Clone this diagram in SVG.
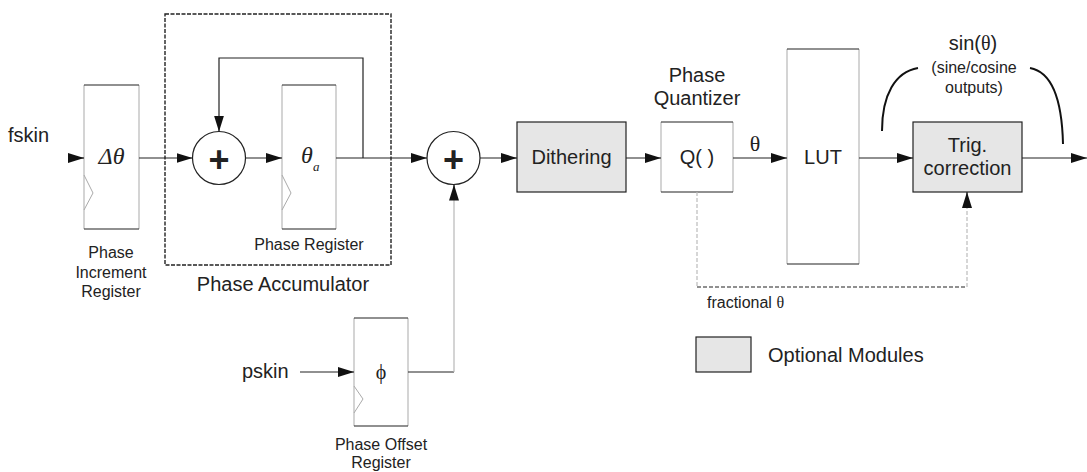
<svg xmlns="http://www.w3.org/2000/svg" width="1087" height="472" viewBox="0 0 1087 472">
<defs>
<marker id="ah" markerWidth="16" markerHeight="10" refX="16" refY="5" orient="auto" markerUnits="userSpaceOnUse">
<path d="M0,0 L16,5 L0,10 Z" fill="#111"/>
</marker>
<style>
text{font-family:"Liberation Sans",Arial,sans-serif;fill:#222;}
.t20{font-size:20px;}
.t16{font-size:16px;}
.side{stroke:#b8b8b8;stroke-width:1.2;fill:none;}
.edge{stroke:#222;stroke-width:1.2;fill:none;}
.clk{stroke:#aaa;stroke-width:1;fill:none;}
.opt{fill:#e6e6e6;stroke:#222;stroke-width:1.2;}
.wire{stroke:#222;stroke-width:1.2;fill:none;}
.gwire{stroke:#b8b8b8;stroke-width:1.2;fill:none;}
.sum{fill:#fff;stroke:#222;stroke-width:1.2;}
.plus{font-size:36px;font-weight:bold;}
.serif{font-family:"Liberation Serif","Times New Roman",serif;}
</style>
</defs>
<rect width="1087" height="472" fill="#fff"/>

<g id="accumulator-frame">
<rect x="165" y="14" width="226" height="251" fill="none" stroke="#222" stroke-width="1.4" stroke-dasharray="4,1.5"/>
<text x="283" y="291" class="t20" text-anchor="middle">Phase Accumulator</text>
</g>

<g id="fskin-label"><text x="8" y="142" class="t20">fskin</text></g>
<g id="pskin-label"><text x="242" y="378" class="t20">pskin</text></g>

<g id="phase-increment-register">
<rect x="84" y="85" width="55" height="144" fill="#fff" stroke="none"/>
<line class="side" x1="84" y1="85" x2="84" y2="229"/>
<line class="side" x1="139" y1="85" x2="139" y2="229"/>
<line class="edge" x1="84" y1="85" x2="139" y2="85"/>
<line class="edge" x1="84" y1="229" x2="139" y2="229"/>
<polyline class="clk" points="84,175 93,193 84,210"/>
<text x="111.5" y="164" class="serif" font-size="24" font-style="italic" text-anchor="middle">Δθ</text>
<text x="111" y="258" class="t16" text-anchor="middle">Phase</text>
<text x="111" y="278" class="t16" text-anchor="middle">Increment</text>
<text x="111" y="297" class="t16" text-anchor="middle">Register</text>
</g>

<g id="adder1">
<circle class="sum" cx="219" cy="158" r="26.5"/>
<text x="219" y="172" class="plus" text-anchor="middle">+</text>
</g>

<g id="phase-register">
<rect x="282" y="85" width="54" height="144" fill="#fff" stroke="none"/>
<line class="side" x1="282" y1="85" x2="282" y2="229"/>
<line class="side" x1="336" y1="85" x2="336" y2="229"/>
<line class="edge" x1="282" y1="85" x2="336" y2="85"/>
<line class="edge" x1="282" y1="229" x2="336" y2="229"/>
<polyline class="clk" points="282,175 291,193 282,210"/>
<text x="307" y="163" class="serif" font-size="24" font-style="italic" text-anchor="middle">θ</text>
<text x="313" y="171" class="serif" font-size="13" font-style="italic">a</text>
<text x="309" y="250" class="t16" text-anchor="middle">Phase Register</text>
</g>

<g id="adder2">
<circle class="sum" cx="453.5" cy="158" r="26.5"/>
<text x="453.5" y="172" class="plus" text-anchor="middle">+</text>
</g>

<g id="phase-offset-register">
<rect x="354" y="318" width="54" height="108" fill="#fff" stroke="none"/>
<line class="side" x1="354" y1="318" x2="354" y2="426"/>
<line class="side" x1="408" y1="318" x2="408" y2="426"/>
<line class="edge" x1="354" y1="318" x2="408" y2="318"/>
<line class="edge" x1="354" y1="426" x2="408" y2="426"/>
<polyline class="clk" points="354,386 363,399 354,413"/>
<text x="381" y="379" class="serif" font-size="20" text-anchor="middle">ϕ</text>
<text x="381" y="450" class="t16" text-anchor="middle">Phase Offset</text>
<text x="381" y="468" class="t16" text-anchor="middle">Register</text>
</g>

<g id="dithering">
<rect class="opt" x="517" y="122" width="109" height="70"/>
<text x="571.5" y="164" class="t20" text-anchor="middle">Dithering</text>
</g>

<g id="quantizer">
<rect x="661" y="122" width="72" height="70" fill="#fff" stroke="none"/>
<line class="side" x1="661" y1="122" x2="661" y2="192"/>
<line class="side" x1="733" y1="122" x2="733" y2="192"/>
<line class="edge" x1="661" y1="122" x2="733" y2="122"/>
<line class="edge" x1="661" y1="192" x2="733" y2="192"/>
<text x="697" y="164" class="t20" text-anchor="middle">Q( )</text>
<text x="697" y="82" class="t20" text-anchor="middle">Phase</text>
<text x="697" y="105" class="t20" text-anchor="middle">Quantizer</text>
</g>

<g id="lut">
<rect x="787" y="49" width="72" height="215" fill="#fff" stroke="none"/>
<line class="side" x1="787" y1="49" x2="787" y2="264"/>
<line class="side" x1="859" y1="49" x2="859" y2="264"/>
<line class="edge" x1="787" y1="49" x2="859" y2="49"/>
<line class="edge" x1="787" y1="264" x2="859" y2="264"/>
<text x="823" y="164" class="t20" text-anchor="middle">LUT</text>
</g>

<g id="trig-correction">
<rect class="opt" x="913" y="122" width="109" height="70"/>
<text x="967.5" y="152" class="t20" text-anchor="middle">Trig.</text>
<text x="967.5" y="175" class="t20" text-anchor="middle">correction</text>
</g>

<g id="sin-label">
<text x="973" y="50" class="t20" text-anchor="middle">sin(<tspan class="serif">θ</tspan>)</text>
<text x="974" y="73" class="t16" text-anchor="middle">(sine/cosine</text>
<text x="974" y="93" class="t16" text-anchor="middle">outputs)</text>
<path d="M882,131 C882,95 895,72 918,68" fill="none" stroke="#111" stroke-width="2"/>
<path d="M1030,68 C1052,72 1062,100 1063,144" fill="none" stroke="#111" stroke-width="2"/>
</g>

<g id="legend">
<rect class="opt" x="696" y="337" width="55" height="35"/>
<text x="768" y="362" class="t20">Optional Modules</text>
</g>

<g id="connectors">
<line class="wire" x1="68" y1="158" x2="84" y2="158" marker-end="url(#ah)"/>
<line class="wire" x1="139" y1="158" x2="192.5" y2="158" marker-end="url(#ah)"/>
<line class="wire" x1="245.5" y1="158" x2="282" y2="158" marker-end="url(#ah)"/>
<line class="wire" x1="336" y1="158" x2="427" y2="158" marker-end="url(#ah)"/>
<polyline class="wire" points="363,158 363,58 219,58 219,131.5" marker-end="url(#ah)"/>
<line class="wire" x1="480" y1="158" x2="517" y2="158" marker-end="url(#ah)"/>
<line class="wire" x1="626" y1="158" x2="661" y2="158" marker-end="url(#ah)"/>
<line class="wire" x1="733" y1="158" x2="787" y2="158" marker-end="url(#ah)"/>
<text x="755" y="151" class="serif" font-size="22" text-anchor="middle">θ</text>
<line class="wire" x1="859" y1="158" x2="913" y2="158" marker-end="url(#ah)"/>
<line class="wire" x1="1022" y1="158" x2="1087" y2="158" marker-end="url(#ah)"/>
<line class="wire" x1="300" y1="372" x2="354" y2="372" marker-end="url(#ah)"/>
<line class="wire" x1="408" y1="372" x2="454" y2="372"/>
<line class="gwire" x1="454" y1="372" x2="454" y2="200"/>
<line class="wire" x1="454" y1="200" x2="454" y2="184.5" marker-end="url(#ah)"/>
<line x1="697" y1="192" x2="697" y2="287" stroke="#bbb" stroke-width="1.2" stroke-dasharray="4,2"/>
<line x1="697" y1="287" x2="967" y2="287" stroke="#222" stroke-width="1.2" stroke-dasharray="4,2"/>
<line x1="967" y1="287" x2="967" y2="208" stroke="#bbb" stroke-width="1.2" stroke-dasharray="4,2"/>
<line class="wire" x1="967" y1="208" x2="967" y2="192" marker-end="url(#ah)"/>
<text x="707" y="308" class="t16">fractional <tspan class="serif">θ</tspan></text>
</g>
</svg>
